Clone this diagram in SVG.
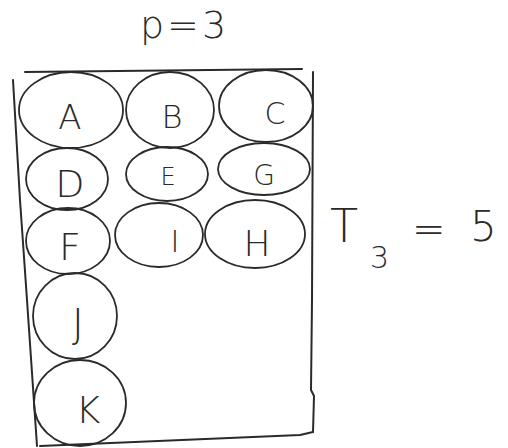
<svg xmlns="http://www.w3.org/2000/svg" width="508" height="448" viewBox="0 0 508 448">
<style>
.ln{fill:none;stroke:#2a2a2a;stroke-width:2;stroke-linecap:round;stroke-linejoin:round}
.nd{fill:none;stroke:#2a2a2a;stroke-width:1.8}
.lb{font-family:"DejaVu Sans","Liberation Sans",sans-serif;font-weight:300;fill:#2a2a2a;text-anchor:middle}
.tx{font-family:"DejaVu Sans","Liberation Sans",sans-serif;font-weight:300;fill:#2a2a2a}
</style>
<rect width="508" height="448" fill="#ffffff"/>
<g id="frame">
<path class="ln" d="M25,72 L302,69"/>
<path class="ln" d="M13,80 L20,200 L27,300 L37,446"/>
<path class="ln" d="M313,72 L312,300 L311,390 L314,396 L313,432"/>
<path class="ln" d="M40,446 L300,435 L313,432"/>
</g>
<text class="tx" x="140" y="38" font-size="38" letter-spacing="3">p=3</text>
<g id="A"><ellipse class="nd" cx="71" cy="110" rx="52" ry="38"/><text class="lb" x="70" y="129" font-size="34">A</text></g>
<g id="B"><ellipse class="nd" cx="170" cy="110" rx="44" ry="38"/><text class="lb" x="172" y="128" font-size="32">B</text></g>
<g id="C"><ellipse class="nd" cx="266" cy="106" rx="47" ry="36"/><text class="lb" x="275" y="124" font-size="30">C</text></g>
<g id="D"><ellipse class="nd" cx="67" cy="179" rx="41" ry="31"/><text class="lb" x="70" y="197" font-size="38">D</text></g>
<g id="E"><ellipse class="nd" cx="167" cy="174" rx="41" ry="27"/><text class="lb" x="168" y="185" font-size="24">E</text></g>
<g id="G"><ellipse class="nd" cx="264" cy="169" rx="46" ry="26"/><text class="lb" x="264" y="185" font-size="28">G</text></g>
<g id="F"><ellipse class="nd" cx="68" cy="241" rx="42" ry="33"/><text class="lb" x="70" y="260" font-size="38">F</text></g>
<g id="I"><ellipse class="nd" cx="159" cy="235" rx="44" ry="32"/><text class="lb" x="175" y="252" font-size="30">I</text></g>
<g id="H"><ellipse class="nd" cx="255" cy="234" rx="50" ry="34"/><text class="lb" x="257" y="256" font-size="36">H</text></g>
<g id="J"><ellipse class="nd" cx="75" cy="316" rx="42" ry="43"/><text class="lb" x="78" y="338" font-size="40">J</text></g>
<g id="K"><ellipse class="nd" cx="80" cy="403" rx="46" ry="43"/><text class="lb" x="88" y="423" font-size="38">K</text></g>
<g id="T3">
<text class="tx" x="330" y="242" font-size="46">T</text>
<text class="tx" x="370" y="268" font-size="30">3</text>
<text class="tx" x="412" y="243" font-size="40">=</text>
<text class="tx" x="470" y="241" font-size="42">5</text>
</g>
</svg>
